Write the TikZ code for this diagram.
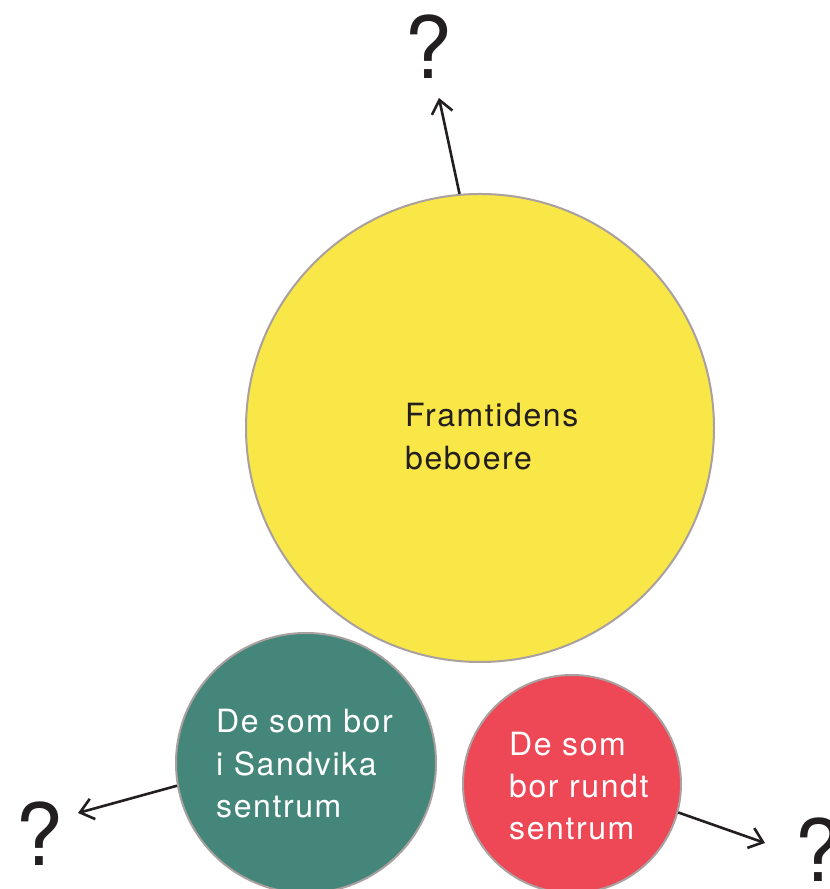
\documentclass[tikz,border=0pt]{standalone}
\usepackage{fontspec}
\setmainfont{TeX Gyre Heros}
\newfontfamily\lblfont[LetterSpace=5]{TeX Gyre Heros}
\usetikzlibrary{arrows.meta}
\definecolor{cyellow}{HTML}{F8E746}
\definecolor{cgreen}{HTML}{44877A}
\definecolor{cred}{HTML}{EE4756}
\definecolor{cborder}{HTML}{AAA0A0}
\definecolor{ctext}{HTML}{231F20}
\tikzset{
  blob/.style={circle, draw=cborder, line width=2pt, inner sep=0pt},
  lbl/.style={align=left, inner sep=0pt, anchor=base west},
  qmark/.style={font=\fontsize{86}{86}\selectfont, text=ctext, inner sep=0pt},
  conn/.style={draw=ctext, line width=2.6pt, -{Straight Barb[length=13pt,width=21pt,line width=2.6pt]}}
}
\begin{document}
\begin{tikzpicture}[x=1pt,y=1pt]
\useasboundingbox (0,0) rectangle (830,889);
\node[blob, fill=cyellow, minimum size=468pt] (y) at (480,461) {};
\node[blob, fill=cgreen, minimum size=260pt] (g) at (306,126) {};
\node[blob, fill=cred, minimum size=218pt] (r) at (572,105) {};
\node[lbl, text=ctext, font=\lblfont\fontsize{32}{43}\selectfont] (ty) at (405,419) {Framtidens\\beboere};
\node[lbl, text=white, font=\lblfont\fontsize{32}{42.5}\selectfont] (tg) at (216,71) {De som bor\\i Sandvika\\sentrum};
\node[lbl, text=white, font=\lblfont\fontsize{32}{42}\selectfont] (tr) at (509,49) {De som\\bor rundt\\sentrum};
\node[qmark] (q1) at (428,842) {?};
\node[qmark] (q2) at (39,55) {?};
\node[qmark] (q3) at (818,39) {?};
\coordinate (h1) at (439,791);
\coordinate (h2) at (78,76);
\coordinate (h3) at (765,46);
\draw[conn] (y.95.2) -- (h1);
\draw[conn] (g.190) -- (h2);
\draw[conn] (r.-15) -- (h3);
\end{tikzpicture}
\end{document}
